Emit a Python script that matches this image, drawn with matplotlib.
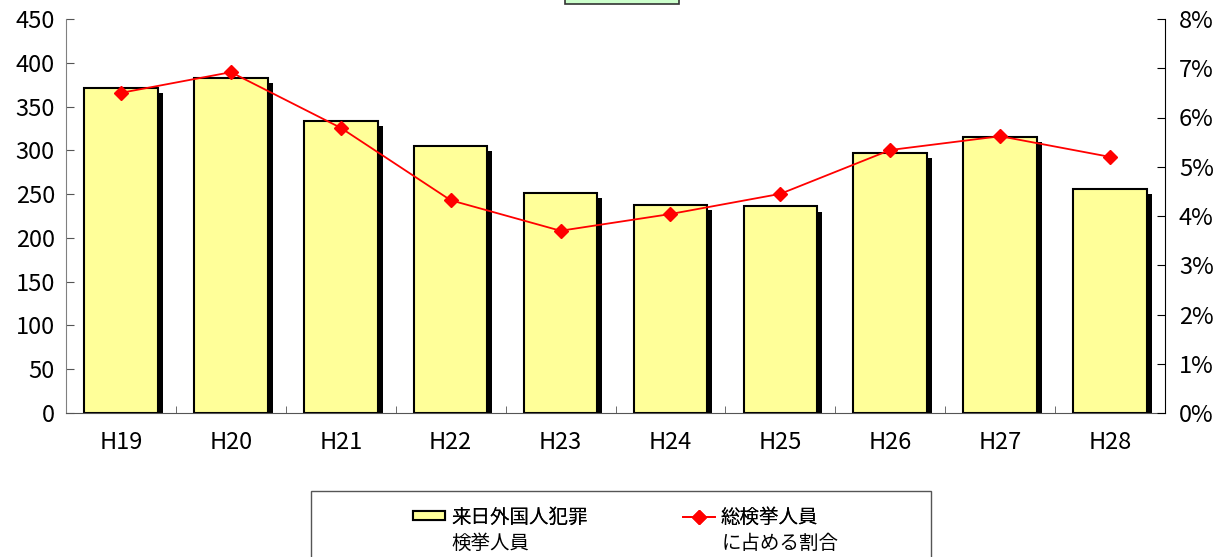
import matplotlib.pyplot as plt
from matplotlib.patches import Rectangle
import numpy as np

plt.rcParams['font.family'] = ['Noto Sans CJK JP', 'DejaVu Sans']

years = ['H19', 'H20', 'H21', 'H22', 'H23', 'H24', 'H25', 'H26', 'H27', 'H28']
arrests = [371, 383, 334, 305, 251, 238, 236, 297, 315, 256]
share = [6.50, 6.92, 5.79, 4.32, 3.70, 4.04, 4.45, 5.34, 5.62, 5.20]

label_bar = ['来日外国人犯罪', '検挙人員']
label_line = ['総検挙人員', 'に占める割合']


def main():
    fig = plt.figure(figsize=(12.2, 5.57), dpi=100)
    ax = fig.add_axes([66 / 1220, 1 - 413 / 557, 1099 / 1220, 394 / 557])
    x = np.arange(len(years))
    w = 0.67

    # drop shadow behind each bar
    ax.bar(x + 0.045, np.array(arrests) - 6, width=w, color='black', zorder=1)
    bars = ax.bar(x, arrests, width=w, color='#FFFF99', edgecolor='black',
                  linewidth=1.5, zorder=2)

    ax.set_xlim(-0.5, len(years) - 0.5)
    ax.set_ylim(0, 450)
    ax.set_yticks(np.arange(0, 451, 50))
    ax.set_xticks(x)
    ax.set_xticklabels(years)
    ax.set_xticks(np.arange(0.5, len(years) - 1, 1), minor=True)
    ax.tick_params(axis='x', which='major', length=0, pad=13, labelsize=17)
    ax.tick_params(axis='x', which='minor', direction='in', length=5, color='#555555')
    ax.tick_params(axis='y', direction='in', length=6, labelsize=17, pad=8, color='#555555')
    ax.spines['top'].set_visible(False)
    ax.spines['right'].set_visible(False)
    ax.spines['left'].set_color('#808080')
    ax.spines['bottom'].set_color('#555555')

    ax2 = ax.twinx()
    line, = ax2.plot(x, share, color='red', marker='D', markersize=7,
                     linewidth=1.3, zorder=5)
    ax2.set_ylim(0, 8)
    ax2.set_yticks(np.arange(0, 9, 1))
    ax2.set_yticklabels([f'{i}%' for i in range(9)])
    ax2.tick_params(axis='y', direction='in', length=6, labelsize=17, pad=10)
    ax2.spines['top'].set_visible(False)
    ax2.spines['left'].set_visible(False)
    ax2.spines['bottom'].set_visible(False)

    # cut-off title box at top
    fig.patches.append(Rectangle((565 / 1220, 1 - 4 / 557), 114 / 1220, 20 / 557,
                                 transform=fig.transFigure, facecolor='#CCFFCC',
                                 edgecolor='#333333', linewidth=1.2))
    # legend frame (cut off at the bottom)
    fig.patches.append(Rectangle((311 / 1220, -0.05), 620 / 1220, 1 - 491 / 557 + 0.05,
                                 transform=fig.transFigure, facecolor='white',
                                 edgecolor='#555555', linewidth=1.0))

    # legend entries: handle beside first line, second line below
    for handle, labels, x0, x1 in [(bars, label_bar, 413, 451), (line, label_line, 683, 722)]:
        leg = fig.legend([handle], [labels[0]], frameon=False, loc='center left',
                         bbox_to_anchor=(x0 / 1220, 1 - 517 / 557), fontsize=14,
                         handlelength=1.65, handletextpad=0.3, borderpad=0,
                         borderaxespad=0, handleheight=0.4)
        fig.add_artist(leg)
        fig.text(x1 / 1220, 1 - 543 / 557, labels[1], fontsize=14,
                 va='center', ha='left')

    fig.savefig('out.png', dpi=100)


if __name__ == '__main__':
    main()
